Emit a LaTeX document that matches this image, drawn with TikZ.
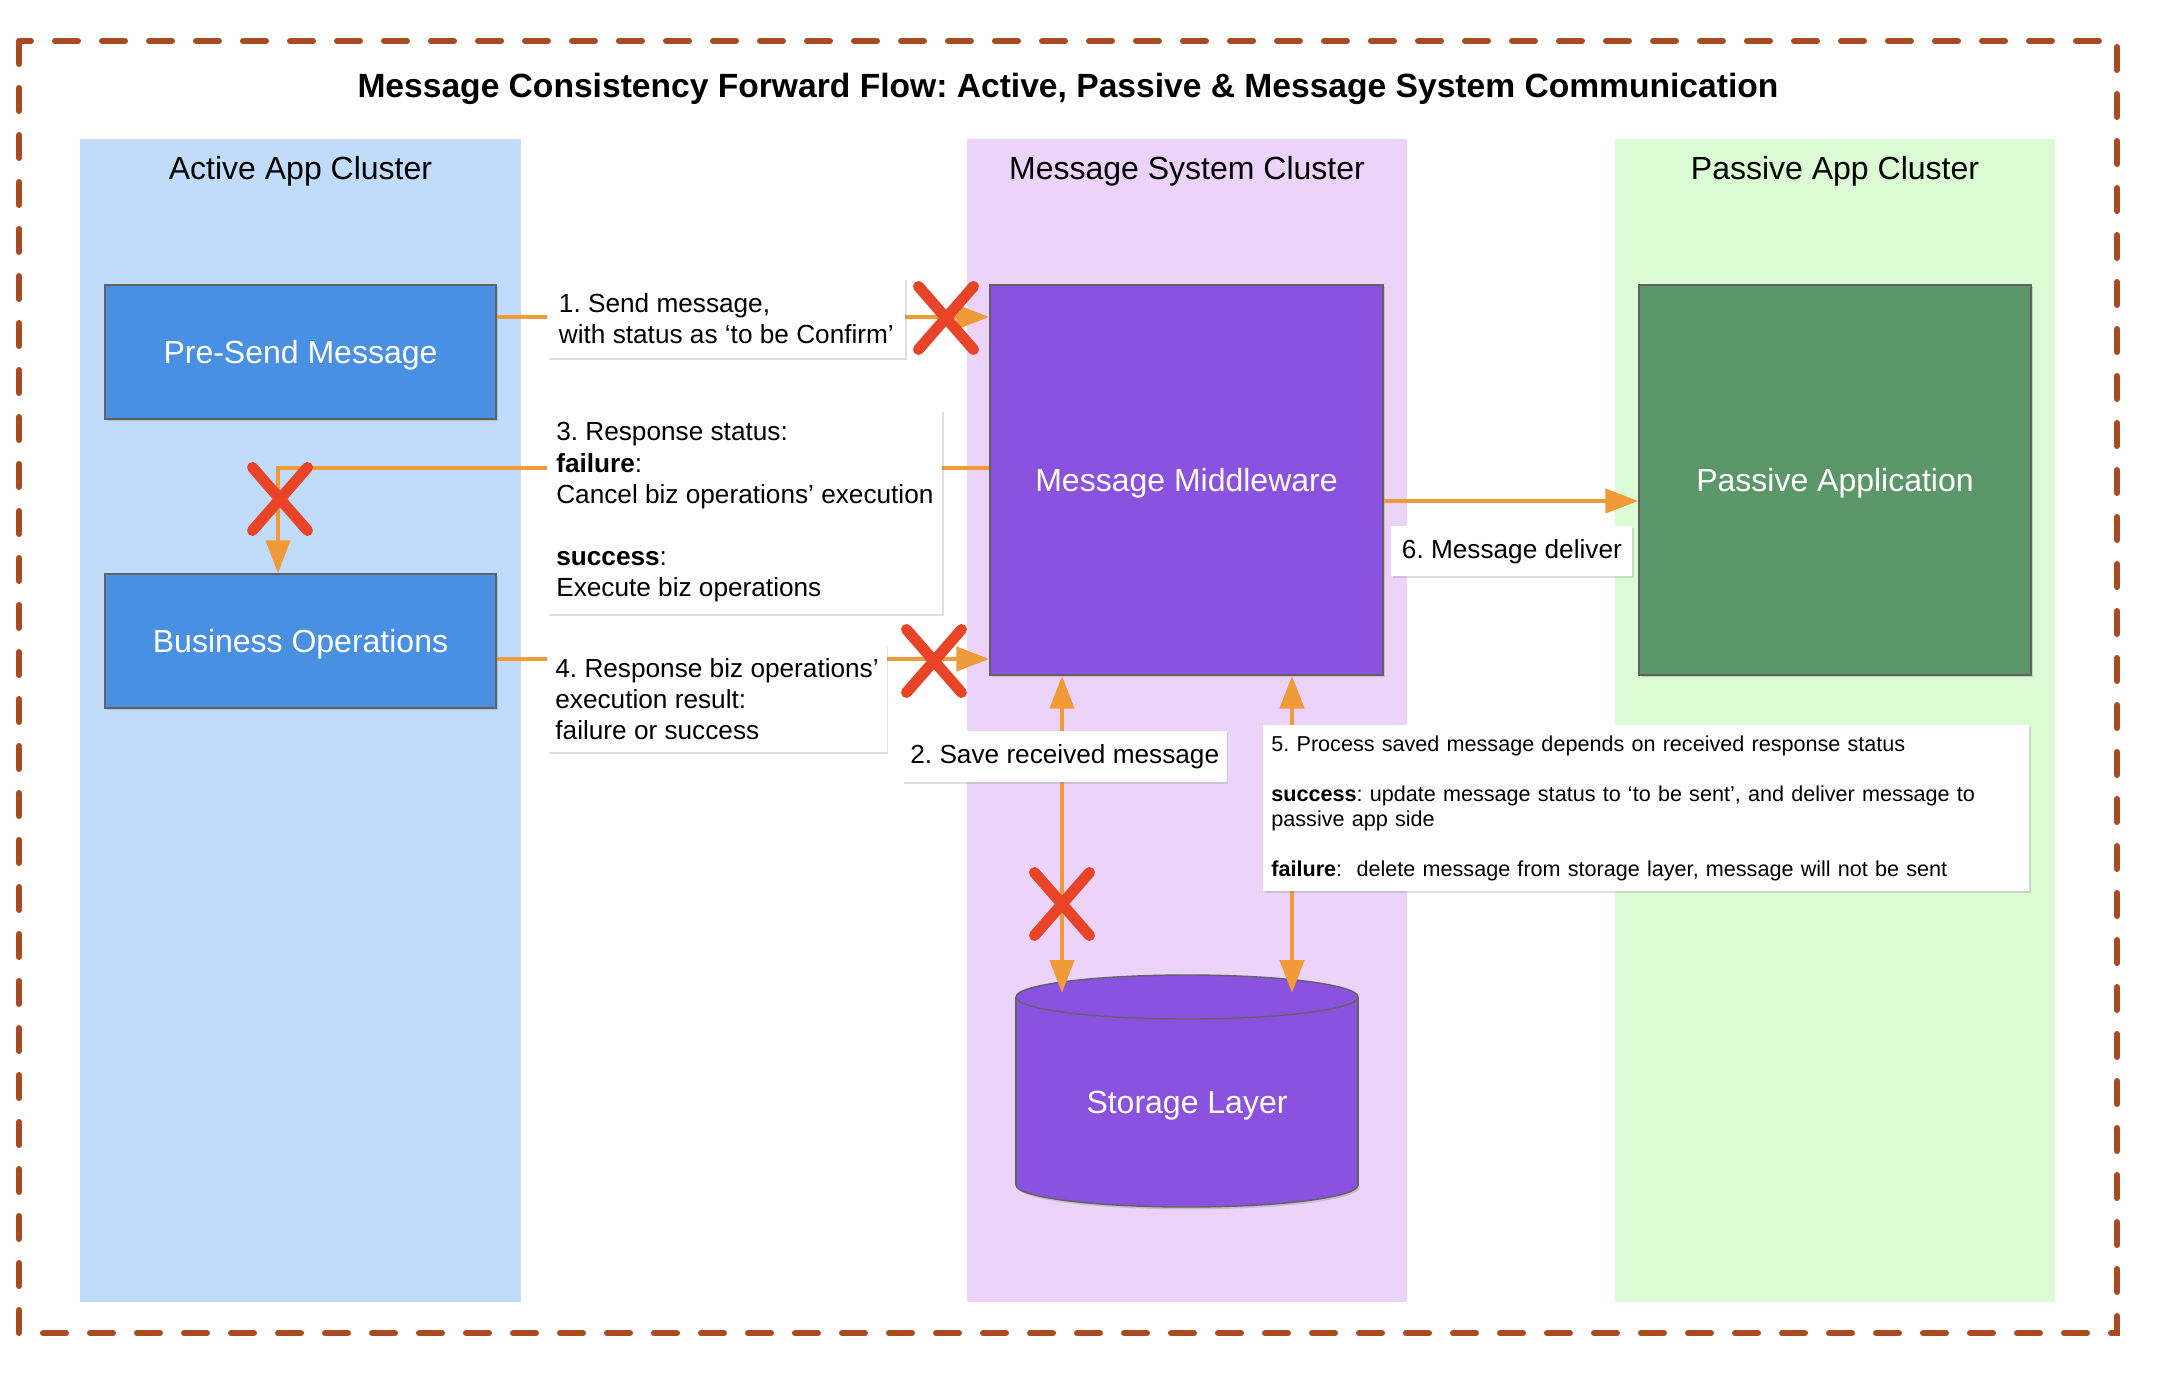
\documentclass[tikz,border=0pt]{standalone}
\usepackage{fontspec}
\setmainfont{Liberation Sans}
\usetikzlibrary{arrows.meta,shapes.misc,shadows}
\frenchspacing

\definecolor{framebrown}{HTML}{A84B20}
\definecolor{activefill}{HTML}{C0DCFA}
\definecolor{msgfill}{HTML}{EBD3FA}
\definecolor{passivefill}{HTML}{DAFBD3}
\definecolor{bluebox}{HTML}{4A90E2}
\definecolor{purplebox}{HTML}{8B51DF}
\definecolor{greenbox}{HTML}{5B9769}
\definecolor{floworange}{HTML}{F19A38}
\definecolor{crossred}{HTML}{E94427}
\definecolor{edgegray}{HTML}{626262}

\tikzset{
  >={Triangle[length=16.5pt,width=12pt]},
  outline/.style={draw=framebrown, line width=3pt, line cap=round,
    dash pattern=on 11.5pt off 12pt},
  heading/.style={font=\bfseries\fontsize{16.8}{19}\selectfont},
  lanetitle/.style={font=\fontsize{16}{19}\selectfont},
  appbox/.style={fill=#1, draw=edgegray, line width=0.7pt, text=white,
    font=\fontsize{16}{19}\selectfont, text depth=0pt,
    drop shadow={shadow xshift=0.8pt, shadow yshift=-1.2pt, opacity=0.3}},
  note/.style={fill=white, align=left, anchor=north west, inner xsep=4pt,
    inner ysep=0pt, font=\fontsize{13.1}{15.6}\selectfont,
    drop shadow={shadow xshift=0.6pt, shadow yshift=-1pt, opacity=0.25}},
  flow/.style={draw=floworange, line width=2.3pt, ->},
  crossmark/.style={cross out, draw=crossred, line width=5.5pt,
    line cap=round, minimum width=22pt, minimum height=26pt, inner sep=0pt},
  dbshape/.style={fill=purplebox, draw=edgegray, line width=0.7pt}
}

\begin{document}
\begin{tikzpicture}[x=0.5pt,y=-0.5pt]
  \useasboundingbox (0,0) rectangle (2160,1378);

  % lanes
  \fill[activefill] (80,139) rectangle (521,1302);
  \fill[msgfill] (967,139) rectangle (1407,1302);
  \fill[passivefill] (1615,139) rectangle (2055,1302);
  \draw[outline] (19,41) rectangle (2117,1333);

  \node[heading] (title) at (1068,89)
    {Message Consistency Forward Flow: Active, Passive \& Message System Communication};
  \node[lanetitle] (activetitle) at (300.5,171) {Active App Cluster};
  \node[lanetitle] (msgtitle) at (1187,171) {Message System Cluster};
  \node[lanetitle] (passivetitle) at (1835,171) {Passive App Cluster};

  % boxes
  \node[appbox=bluebox, minimum width=195.5pt, minimum height=67pt]
    (presend) at (300.5,352) {Pre-Send Message};
  \node[appbox=bluebox, minimum width=195.5pt, minimum height=67pt]
    (bizops) at (300.5,641) {Business Operations};
  \node[appbox=purplebox, minimum width=196.5pt, minimum height=195pt]
    (middleware) at (1186.5,480) {Message Middleware};
  \node[appbox=greenbox, minimum width=196pt, minimum height=195pt]
    (passive) at (1835,480) {Passive Application};

  % storage cylinder
  \filldraw[dbshape, drop shadow={shadow xshift=0.8pt, shadow yshift=-1.2pt, opacity=0.3}]
    (1187,1185) ellipse [x radius=171, y radius=22];
  \fill[purplebox] (1016,997) rectangle (1358,1185);
  \draw[edgegray, line width=0.7pt] (1016,997) -- (1016,1185) (1358,997) -- (1358,1185);
  \filldraw[dbshape] (1187,997) ellipse [x radius=171, y radius=22];
  \node[text=white, font=\fontsize{16}{19}\selectfont] (storage) at (1187,1106) {Storage Layer};

  % connectors
  \coordinate (sendrow) at (0,317);
  \coordinate (replyrow) at (0,468);
  \coordinate (deliverrow) at (0,501);
  \coordinate (resultrow) at (0,659);
  \coordinate (turn) at (278,468);
  \coordinate (savecol) at (1062,993);
  \coordinate (processcol) at (1292,993);

  \draw[flow] (presend.east |- sendrow) -- (middleware.west |- sendrow);
  \draw[flow] (middleware.west |- replyrow) -- (turn) -- (bizops.north -| turn);
  \draw[flow] (bizops.east |- resultrow) -- (middleware.west |- resultrow);
  \draw[flow] (middleware.east |- deliverrow) -- (passive.west |- deliverrow);
  \draw[flow, <->] (savecol) -- (middleware.south -| savecol);
  \draw[flow, <->] (processcol) -- (middleware.south -| processcol);

  % notes
  \node[note, minimum width=179pt, minimum height=40pt]
    (sendnote) at (547,278) {1. Send message,\\with status as ‘to be Confirm’};
  \node[note, minimum width=197.5pt, minimum height=102pt]
    (replynote) at (547,410) {3. Response status:\\\textbf{failure}:\\Cancel biz operations’ execution\\[15.6pt]\textbf{success}:\\Execute biz operations};
  \node[note, minimum width=169.5pt, minimum height=53.5pt]
    (resultnote) at (547,645) {4. Response biz operations’\\execution result:\\failure or success};
  \node[note, minimum width=160pt, minimum height=25.5pt]
    (savenote) at (902,731) {2. Save received message};
  \node[note, minimum width=383pt, minimum height=83pt, text width=375pt,
    font=\fontsize{10.8}{12.5}\selectfont]
    (processnote) at (1263,725) {5. Process saved message depends on received response status\\[12.5pt]\textbf{success}: update message status to ‘to be sent’, and deliver message to\\passive app side\\[12.5pt]\textbf{failure}:\ \ delete message from storage layer, message will not be sent};
  \node[note, minimum width=120.5pt, minimum height=25pt]
    (delivernote) at (1391,526) {6. Message deliver};

  % failure marks
  \node[crossmark] (sendcross) at (946,318) {};
  \node[crossmark] (replycross) at (280,499) {};
  \node[crossmark] (resultcross) at (934,661) {};
  \node[crossmark] (savecross) at (1062,904) {};
\end{tikzpicture}
\end{document}
